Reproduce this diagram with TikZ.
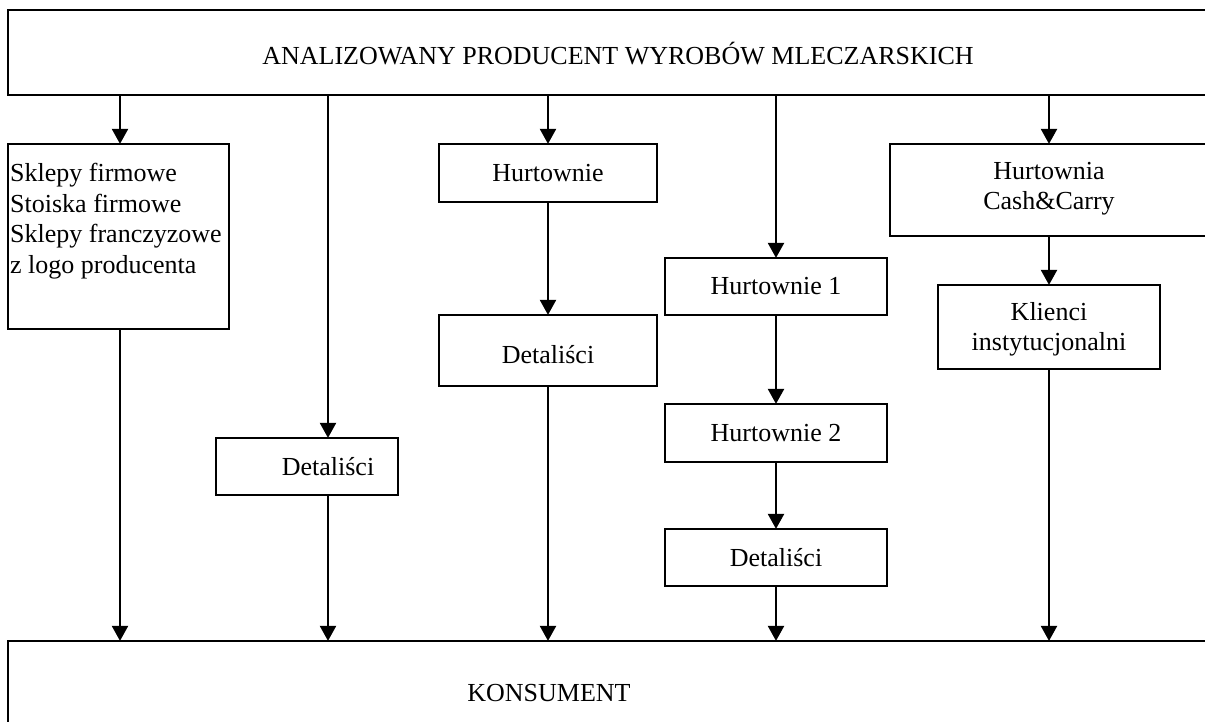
\documentclass[tikz,border=0pt]{standalone}
\usepackage{fontspec}
\setmainfont{Liberation Serif}
\usetikzlibrary{arrows.meta}
\begin{document}
\begin{tikzpicture}[x=1pt,y=-1pt,
  box/.style={draw,line width=2.2pt,inner sep=0pt,font=\fontsize{26}{30}\selectfont,align=center},
  txt/.style={inner sep=0pt,font=\fontsize{26}{30}\selectfont,align=center},
  arr/.style={line width=2.2pt,-{Triangle[length=15pt,width=16pt]},shorten >=-1pt}]
\useasboundingbox (0,0) rectangle (1205,722);
\clip (0,0) rectangle (1205,722);
\fill[white] (0,0) rectangle (1205,722);
% boxes
\node[box,minimum width=1220pt,minimum height=85pt] (top) at (618,52.5) {};
\node[txt] (topt) at (618,54) {ANALIZOWANY PRODUCENT WYROBÓW MLECZARSKICH};
\node[box,minimum width=221pt,minimum height=185pt] (sklep) at (118.5,236.5) {};
\node[txt,align=left,anchor=north west,font=\fontsize{26}{30.5}\selectfont] (sklept) at (10,163) {Sklepy firmowe\\Stoiska firmowe\\Sklepy franczyzowe\\z logo producenta};
\node[box,minimum width=182pt,minimum height=57pt] (det1) at (307,466.5) {};
\node[txt] (det1t) at (328,467) {Detaliści};
\node[box,minimum width=218pt,minimum height=58pt] (hurt) at (548,173) {Hurtownie};
\node[box,minimum width=218pt,minimum height=71pt] (det2) at (548,350.5) {};
\node[txt] (det2t) at (548,355) {Detaliści};
\node[box,minimum width=222pt,minimum height=57pt] (h1) at (776,286.5) {Hurtownie 1};
\node[box,minimum width=222pt,minimum height=58pt] (h2) at (776,433) {Hurtownie 2};
\node[box,minimum width=222pt,minimum height=57pt] (det3) at (776,557.5) {Detaliści};
\node[box,minimum width=318pt,minimum height=92pt] (hcc) at (1049,190) {};
\node[txt] (hcct) at (1049,189) {Hurtownia\\Cash\&Carry};
\node[box,minimum width=222pt,minimum height=84pt] (kl) at (1049,327) {};
\node[txt] (klt) at (1049,329) {Klienci\\instytucjonalni};
\node[box,minimum width=1222pt,minimum height=120pt] (kons) at (619,701) {};
\node[txt] (konst) at (549,693) {KONSUMENT};
% column 1
\draw[arr] (top.south -| 120,0) -- (sklep.north -| 120,0);
\draw[arr] (sklep.south -| 120,0) -- (kons.north -| 120,0);
% column 2
\draw[arr] (top.south -| det1t) -- (det1.north -| det1t);
\draw[arr] (det1.south -| det1t) -- (kons.north -| det1t);
% column 3
\draw[arr] (top.south -| hurt) -- (hurt.north);
\draw[arr] (hurt.south) -- (det2.north);
\draw[arr] (det2.south) -- (kons.north -| det2);
% column 4
\draw[arr] (top.south -| h1) -- (h1.north);
\draw[arr] (h1.south) -- (h2.north);
\draw[arr] (h2.south) -- (det3.north);
\draw[arr] (det3.south) -- (kons.north -| det3);
% column 5
\draw[arr] (top.south -| hcc) -- (hcc.north);
\draw[arr] (hcc.south) -- (kl.north);
\draw[arr] (kl.south) -- (kons.north -| kl);
\end{tikzpicture}
\end{document}
